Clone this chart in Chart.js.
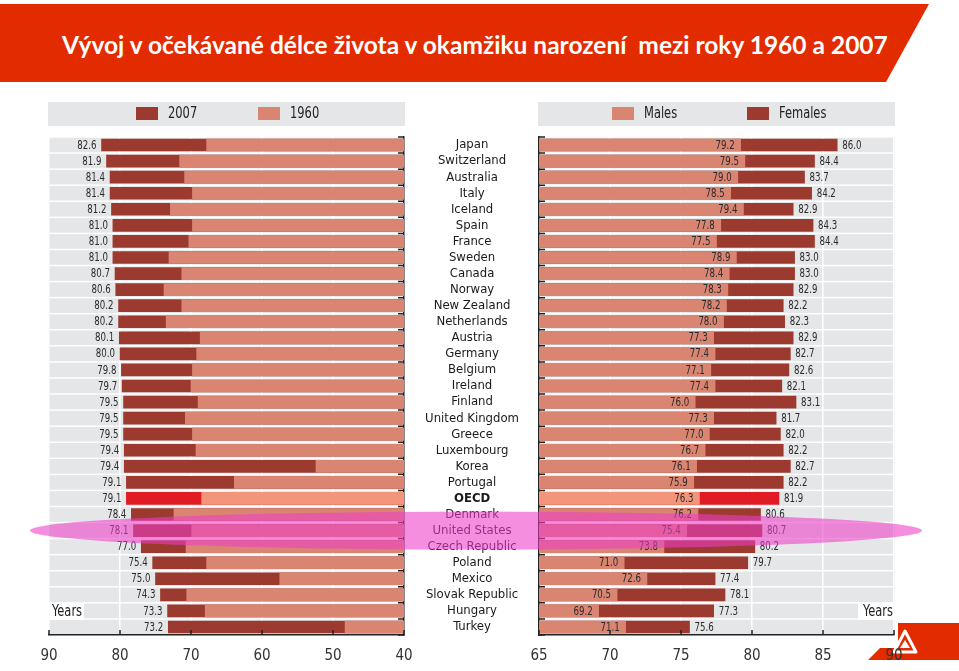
<!DOCTYPE html>
<html>
<head>
<meta charset="utf-8">
<title>Vývoj v očekávané délce života</title>
<script src="https://cdn.jsdelivr.net/npm/chart.js@4.4.1/dist/chart.umd.min.js"></script>
<style>
  html, body { margin: 0; padding: 0; background: #fff; }
  #page { position: relative; width: 959px; height: 671px; overflow: hidden; }
  #banner {
    position: absolute; left: 0; top: 4px; width: 929px; height: 78px; background: #e32b00;
    clip-path: polygon(0 0, 929px 0, 886px 78px, 0 78px);
  }
  #title {
    position: absolute; left: 62px; top: 30px; line-height: 30px; color: #fff;
    font: bold 27px Lato, "Open Sans", sans-serif; white-space: pre;
  }
  #logo { position: absolute; left: 860px; top: 615px; }
  canvas { position: absolute; left: 0; top: 0; }
</style>
</head>
<body>
<div id="page">
  <div id="banner"></div>
  <div id="title">Vývoj v očekávané délce života v okamžiku narození  mezi roky 1960 a 2007</div>
  <svg id="logo" width="99" height="56">
    <polygon points="38,8 99,8 99,45 8,45 20,33 38,33" fill="#e32b00"/>
    <polygon points="45,16 56,37 34,37" fill="none" stroke="#fff" stroke-width="3" stroke-linejoin="round"/>
    <polygon points="45,25 50,33 40,33" fill="#fff"/>
  </svg>
  <canvas id="left" width="959" height="671"></canvas>
  <canvas id="right" width="959" height="671"></canvas>
</div>
<script>
// Data
const countries = ['Japan', 'Switzerland', 'Australia', 'Italy', 'Iceland', 'Spain', 'France', 'Sweden',
  'Canada', 'Norway', 'New Zealand', 'Netherlands', 'Austria', 'Germany', 'Belgium', 'Ireland', 'Finland',
  'United Kingdom', 'Greece', 'Luxembourg', 'Korea', 'Portugal', 'OECD', 'Denmark', 'United States',
  'Czech Republic', 'Poland', 'Mexico', 'Slovak Republic', 'Hungary', 'Turkey'];
const life2007 = [82.6, 81.9, 81.4, 81.4, 81.2, 81.0, 81.0, 81.0, 80.7, 80.6, 80.2, 80.2, 80.1, 80.0, 79.8,
  79.7, 79.5, 79.5, 79.5, 79.4, 79.4, 79.1, 79.1, 78.4, 78.1, 77.0, 75.4, 75.0, 74.3, 73.3, 73.2];
const life1960 = [67.8, 71.6, 70.9, 69.8, 72.9, 69.8, 70.3, 73.1, 71.3, 73.8, 71.3, 73.5, 68.7, 69.2, 69.8,
  70.0, 69.0, 70.8, 69.8, 69.3, 52.4, 63.9, 68.5, 72.4, 69.9, 70.7, 67.8, 57.5, 70.6, 68.0, 48.3];
const males2007 = [79.2, 79.5, 79.0, 78.5, 79.4, 77.8, 77.5, 78.9, 78.4, 78.3, 78.2, 78.0, 77.3, 77.4, 77.1,
  77.4, 76.0, 77.3, 77.0, 76.7, 76.1, 75.9, 76.3, 76.2, 75.4, 73.8, 71.0, 72.6, 70.5, 69.2, 71.1];
const females2007 = [86.0, 84.4, 83.7, 84.2, 82.9, 84.3, 84.4, 83.0, 83.0, 82.9, 82.2, 82.3, 82.9, 82.7, 82.6,
  82.1, 83.1, 81.7, 82.0, 82.2, 82.7, 82.2, 81.9, 80.6, 80.7, 80.2, 79.7, 77.4, 78.1, 77.3, 75.6];
const leftRange = [40, 90];
const rightRange = [65, 90];

// Styles
const NARROW = "'Liberation Sans Narrow', 'Arial Narrow', 'DejaVu Sans Condensed', sans-serif";
const DARK = '#9c3a2f';
const LIGHT = '#d98572';
const OECD_DARK = '#e01b24';
const OECD_LIGHT = '#f3957a';
const BAND = '#e5e6e8';
const INK = '#222';

const paint = (normal, highlight) => countries.map(c => c === 'OECD' ? highlight : normal);

Chart.defaults.font.family = NARROW;

// Fit the title into the banner width
const title = document.getElementById('title');
title.style.fontSize = (27 * 826 / title.offsetWidth).toFixed(2) + 'px';

// squeezed text, to look like the narrow face of the original
function narrowText(ctx, text, x, y, align, squeeze) {
  ctx.save();
  ctx.translate(x, y);
  ctx.scale(squeeze, 1);
  ctx.textAlign = align;
  ctx.fillText(text, 0, 0);
  ctx.restore();
}

// Grey row bands, legend strip, axis tick marks, "Years" box
const frame = {
  id: 'frame',
  beforeDraw(chart, args, opts) {
    const { ctx, chartArea: a, scales: { y } } = chart;
    ctx.save();
    ctx.fillStyle = BAND;
    countries.forEach((c, i) => {
      const cy = y.getPixelForValue(i);
      ctx.fillRect(a.left - 1, cy - 7.3, a.right - a.left + 2, 14.6);
    });
    ctx.fillRect(a.left - 1, 102, a.right - a.left + 2, 24);
    // legend
    ctx.font = `15px ${NARROW}`;
    ctx.textBaseline = 'middle';
    opts.legend.forEach(({ dataset, offset }) => {
      const ds = chart.data.datasets[dataset];
      ctx.fillStyle = Array.isArray(ds.backgroundColor) ? ds.backgroundColor[0] : ds.backgroundColor;
      ctx.fillRect(a.left + offset, 107, 22, 13);
      ctx.fillStyle = INK;
      narrowText(ctx, ds.label, a.left + offset + 32, 114, 'left', 0.85);
    });
    ctx.restore();
  },
  beforeDatasetsDraw(chart, args, opts) {
    const { ctx } = chart;
    const { x, y, w, align } = opts.years;
    ctx.save();
    ctx.fillStyle = '#fff';
    ctx.fillRect(x, y, w, 17);
    ctx.fillStyle = INK;
    ctx.font = `15px ${NARROW}`;
    ctx.textBaseline = 'middle';
    narrowText(ctx, 'Years', align === 'left' ? x + 4 : x + w - 2, y + 9, align, 0.85);
    ctx.restore();
  },
  afterDatasetsDraw(chart, args, opts) {
    const { ctx, chartArea: a, scales: { x } } = chart;
    ctx.save();
    ctx.strokeStyle = INK;
    ctx.lineWidth = 1.5;
    ctx.beginPath();
    const rowH = (a.bottom - a.top) / countries.length;
    const ax = opts.side === 'right' ? a.right : a.left;
    const dir = opts.side === 'right' ? -6 : 6;
    for (let i = 0; i <= countries.length; i++) {
      const yy = a.top + i * rowH;
      ctx.moveTo(ax, yy);
      ctx.lineTo(ax + dir, yy);
    }
    x.ticks.forEach(t => {
      const px = x.getPixelForValue(t.value);
      ctx.moveTo(px, a.bottom);
      ctx.lineTo(px, a.bottom - 5);
    });
    ctx.stroke();
    ctx.restore();
  }
};

// Value labels next to bars
const valueLabels = {
  id: 'valueLabels',
  afterDatasetsDraw(chart, args, opts) {
    const { ctx } = chart;
    ctx.save();
    ctx.font = `12px ${NARROW}`;
    ctx.fillStyle = '#2b2b2b';
    ctx.textBaseline = 'middle';
    opts.items.forEach(({ dataset, align, offset }) => {
      const values = chart.data.datasets[dataset].data;
      chart.getDatasetMeta(dataset).data.forEach((bar, i) => {
        narrowText(ctx, values[i].toFixed(1), bar.x + offset, bar.y + 0.5, align, 0.8);
      });
    });
    ctx.restore();
  }
};

// Pink highlight over Denmark / United States / Czech Republic
const highlight = {
  id: 'highlight',
  afterDraw(chart) {
    const { ctx, scales: { y } } = chart;
    const cy = y.getPixelForValue(countries.indexOf('United States'));
    ctx.save();
    ctx.fillStyle = 'rgba(238, 60, 200, 0.58)';
    ctx.beginPath();
    ctx.ellipse(476, cy, 446, 19, 0, 0, Math.PI * 2);
    ctx.fill();
    ctx.restore();
  }
};

const xAxis = (range, step, reverse) => ({
  type: 'linear', min: range[0], max: range[1], reverse, position: 'bottom',
  ticks: { stepSize: step, padding: 12, color: '#333', font: { size: 15 } },
  grid: { color: '#fff', lineWidth: 1.5, drawTicks: false },
  border: { display: true, color: INK, width: 1.5 },
  afterFit: s => { s.height = 36; }
});

const barDefaults = { bar: { grouped: false, barThickness: 12, borderWidth: 0 } };

// Left chart: 2007 vs 1960
new Chart(document.getElementById('left'), {
  type: 'bar',
  data: {
    labels: countries,
    datasets: [
      { label: '1960', data: life1960, backgroundColor: paint(LIGHT, OECD_LIGHT) },
      { label: '2007', data: life2007, backgroundColor: paint(DARK, OECD_DARK) }
    ]
  },
  options: {
    indexAxis: 'y',
    responsive: false,
    animation: false,
    datasets: barDefaults,
    layout: { padding: { left: 49, right: 555, top: 137, bottom: 0 } },
    scales: {
      x: xAxis(leftRange, 10, true),
      y: {
        position: 'right',
        ticks: { display: false },
        grid: { display: false, drawTicks: false },
        border: { display: true, color: INK, width: 1.5 },
        afterFit: s => { s.width = 0; }
      }
    },
    plugins: {
      legend: { display: false },
      tooltip: { enabled: false },
      frame: { side: 'right', legend: [{ dataset: 1, offset: 87 }, { dataset: 0, offset: 209 }],
        years: { x: 48, y: 603, w: 36, align: 'left' } },
      valueLabels: { items: [{ dataset: 1, align: 'right', offset: -5 }] }
    }
  },
  plugins: [frame, valueLabels]
});

// Right chart: males vs females in 2007, with country names
new Chart(document.getElementById('right'), {
  type: 'bar',
  data: {
    labels: countries,
    datasets: [
      { label: 'Males', data: males2007, backgroundColor: paint(LIGHT, OECD_LIGHT) },
      { label: 'Females', data: females2007, backgroundColor: paint(DARK, OECD_DARK) }
    ]
  },
  options: {
    indexAxis: 'y',
    responsive: false,
    animation: false,
    datasets: barDefaults,
    layout: { padding: { left: 405, right: 65, top: 137, bottom: 0 } },
    scales: {
      x: xAxis(rightRange, 5, false),
      y: {
        position: 'left',
        ticks: {
          autoSkip: false, crossAlign: 'center', padding: 20, color: '#1a1a1a',
          font: ctx => ({ size: 13, weight: ctx.tick && ctx.tick.label === 'OECD' ? 'bold' : 'normal' })
        },
        grid: { display: false, drawTicks: false },
        border: { display: true, color: INK, width: 1.5 },
        afterFit: s => { s.width = 134; }
      }
    },
    plugins: {
      legend: { display: false },
      tooltip: { enabled: false },
      frame: { side: 'left', legend: [{ dataset: 0, offset: 73 }, { dataset: 1, offset: 208 }],
        years: { x: 858, y: 603, w: 37, align: 'right' } },
      valueLabels: { items: [{ dataset: 0, align: 'right', offset: -6 }, { dataset: 1, align: 'left', offset: 5 }] }
    }
  },
  plugins: [frame, valueLabels, highlight]
});
</script>
</body>
</html>
